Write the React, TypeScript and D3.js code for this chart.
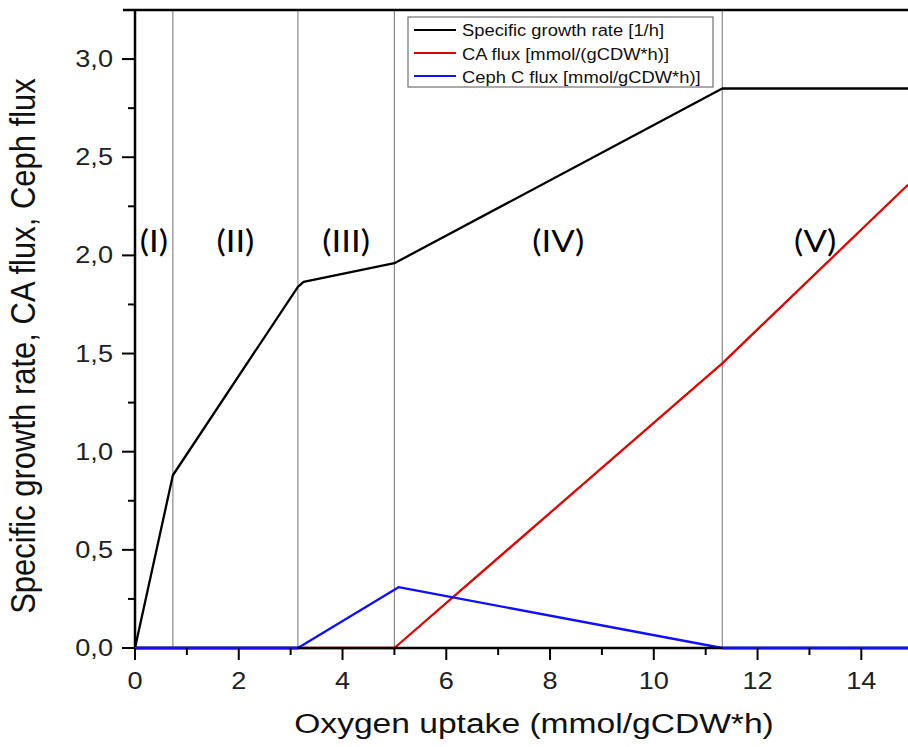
import * as d3 from "d3";
import { useMemo } from "react";

// oxygen uptake breakpoints and the three fluxes
const growthX = [0, 0.73, 3.14, 3.25, 5.0, 11.32, 14.9];
const growthY = [0, 0.88, 1.84, 1.865, 1.96, 2.85, 2.85];

const caX = [0, 5.0, 11.32, 14.9];
const caY = [0, 0, 1.45, 2.36];

const cephX = [0, 3.14, 5.08, 11.32, 14.9];
const cephY = [0, 0, 0.31, 0, 0];

const phaseBounds = [0.73, 3.14, 5.0, 11.32];
const phaseLabels = ["(I)", "(II)", "(III)", "(IV)", "(V)"];

const xTicks = [0, 2, 4, 6, 8, 10, 12, 14];
const xMinor = [1, 3, 5, 7, 9, 11, 13];
const yTicks = [0, 0.5, 1.0, 1.5, 2.0, 2.5, 3.0];
const yMinor = [0.25, 0.75, 1.25, 1.75, 2.25, 2.75];

const seriesNames = [
  "Specific growth rate [1/h]",
  "CA flux [mmol/(gCDW*h)]",
  "Ceph C flux [mmol/gCDW*h)]",
];
const seriesColors = ["#000000", "#e00000", "#1010ff"];

const W = 908;
const H = 747;
const FONT = "'Liberation Sans', Arial, sans-serif";

const fmt = (v: number) => v.toFixed(1).replace(".", ",");

const App = () => {
  const x = useMemo(() => d3.scaleLinear().domain([0, 14.9]).range([135, 908]), []);
  const y = useMemo(() => d3.scaleLinear().domain([0, 3.25]).range([648, 10]), []);

  const line = d3
    .line<[number, number]>()
    .x((d) => x(d[0]))
    .y((d) => y(d[1]));

  const zip = (xs: number[], ys: number[]) => xs.map((v, i) => [v, ys[i]] as [number, number]);
  const series = [zip(growthX, growthY), zip(caX, caY), zip(cephX, cephY)];

  const edges = [0, ...phaseBounds, 14.9];
  const y0 = y(0);
  const yTop = y(3.25);

  return (
    <svg
      width={W}
      height={H}
      style={{ position: "absolute", left: 0, top: 0, background: "#fff" }}
    >
      {/* phase separators */}
      {phaseBounds.map((b) => (
        <line key={b} x1={x(b)} x2={x(b)} y1={y0} y2={yTop} stroke="#8a8a8a" strokeWidth={1.2} />
      ))}

      {/* phase labels */}
      {phaseLabels.map((lab, i) => (
        <text
          key={lab}
          transform={`translate(${x((edges[i] + edges[i + 1]) / 2)},${y(2.0) - 3}) scale(1.12,1)`}
          textAnchor="middle"
          fontFamily="Lato, 'Open Sans', sans-serif"
          fontSize={31}
          fill="#000"
        >
          {lab}
        </text>
      ))}

      {/* series */}
      {series.map((s, i) => (
        <path key={i} d={line(s) ?? ""} fill="none" stroke={seriesColors[i]} strokeWidth={2.3} strokeLinejoin="round" />
      ))}

      {/* axes */}
      <line x1={135} x2={135} y1={y0 + 1} y2={yTop - 1} stroke="#000" strokeWidth={2.5} />
      <line x1={123} x2={W} y1={yTop} y2={yTop} stroke="#000" strokeWidth={2.5} />
      <line x1={134} x2={W} y1={y0} y2={y0} stroke="#000" strokeWidth={2.5} />
      {/* blue zero stretches drawn over the axis */}
      <path d={line(series[2].slice(0, 2)) ?? ""} fill="none" stroke={seriesColors[2]} strokeWidth={2.3} />
      <path d={line(series[2].slice(3)) ?? ""} fill="none" stroke={seriesColors[2]} strokeWidth={2.3} />

      {/* y ticks */}
      {yTicks.map((t) => (
        <g key={t}>
          <line x1={122} x2={135} y1={y(t)} y2={y(t)} stroke="#000" strokeWidth={2} />
          <text
            transform={`translate(113,${y(t) + 8}) scale(1.18,1)`}
            textAnchor="end"
            fontFamily={FONT}
            fontSize={23}
            fill="#222"
          >
            {fmt(t)}
          </text>
        </g>
      ))}
      {yMinor.map((t) => (
        <line key={t} x1={128} x2={135} y1={y(t)} y2={y(t)} stroke="#000" strokeWidth={2} />
      ))}

      {/* x ticks */}
      {xTicks.map((t) => (
        <g key={t}>
          <line x1={x(t)} x2={x(t)} y1={y0} y2={y0 + 12} stroke="#000" strokeWidth={2} />
          <text
            transform={`translate(${x(t)},${y0 + 41}) scale(1.18,1)`}
            textAnchor="middle"
            fontFamily={FONT}
            fontSize={23}
            fill="#222"
          >
            {t}
          </text>
        </g>
      ))}
      {xMinor.map((t) => (
        <line key={t} x1={x(t)} x2={x(t)} y1={y0} y2={y0 + 7} stroke="#000" strokeWidth={2} />
      ))}

      {/* axis titles */}
      <text
        transform={`translate(534,733) scale(1.2,1)`}
        textAnchor="middle"
        fontFamily={FONT}
        fontSize={28}
        fill="#111"
      >
        Oxygen uptake (mmol/gCDW*h)
      </text>
      <text
        transform={`translate(35,346) rotate(-90) scale(1,1.15)`}
        textAnchor="middle"
        fontFamily={FONT}
        fontSize={31}
        fill="#111"
      >
        Specific growth rate, CA flux, Ceph flux
      </text>

      {/* legend */}
      <rect x={408} y={17} width={305} height={70} fill="#fff" stroke="#555" strokeWidth={1} />
      {seriesNames.map((name, i) => (
        <g key={name}>
          <line x1={414} x2={456} y1={30 + i * 23} y2={30 + i * 23} stroke={seriesColors[i]} strokeWidth={2} />
          <text
            transform={`translate(462,${36 + i * 23.5}) scale(1.08,1)`}
            fontFamily={FONT}
            fontSize={17}
            fill="#111"
          >
            {name}
          </text>
        </g>
      ))}
    </svg>
  );
};

export default App;
